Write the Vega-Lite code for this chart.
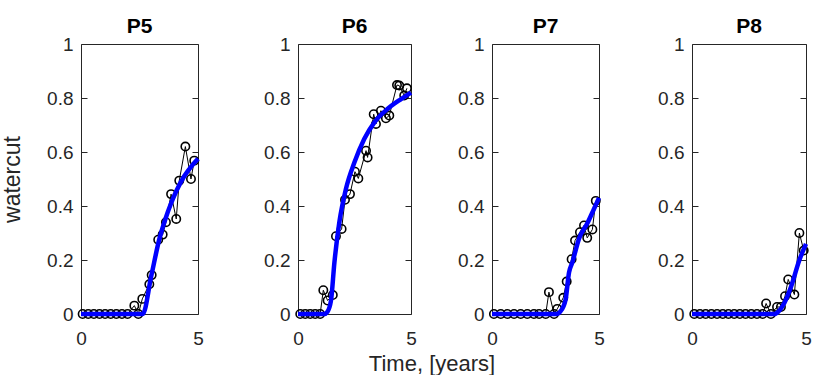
{
  "$schema": "https://vega.github.io/schema/vega-lite/v6.json",
  "padding": {"left": 0, "top": 15, "right": 0, "bottom": 0},
  "spacing": 0,
  "bounds": "full",
  "title": {"text": "Time, [years]", "orient": "bottom", "fontSize": 22, "fontWeight": "normal", "color": "#262626", "anchor": "middle", "frame": "bounds", "offset": 5, "dx": 24},
  "config": {
    "font": "Liberation Sans",
    "view": {"stroke": "#262626", "strokeWidth": 1},
    "title": {"fontSize": 21, "fontWeight": "bold", "color": "black", "offset": -2},
    "axis": {"grid": false, "domain": false, "zindex": 1, "labelFontSize": 19, "labelColor": "#262626", "tickColor": "#262626", "tickWidth": 1, "titleColor": "#262626", "labelFont": "Liberation Sans", "titleFont": "Liberation Sans"}
  },
  "datasets": {
    "obs": [
      {"w": "P5", "t": 0.07, "v": 0}, {"w": "P5", "t": 0.31, "v": 0}, {"w": "P5", "t": 0.55, "v": 0}, {"w": "P5", "t": 0.79, "v": 0}, {"w": "P5", "t": 1.03, "v": 0}, {"w": "P5", "t": 1.27, "v": 0}, {"w": "P5", "t": 1.51, "v": 0}, {"w": "P5", "t": 1.75, "v": 0}, {"w": "P5", "t": 1.99, "v": 0},
      {"w": "P5", "t": 2.28, "v": 0.031}, {"w": "P5", "t": 2.45, "v": 0}, {"w": "P5", "t": 2.62, "v": 0.056}, {"w": "P5", "t": 2.92, "v": 0.11}, {"w": "P5", "t": 3.02, "v": 0.144}, {"w": "P5", "t": 3.3, "v": 0.275}, {"w": "P5", "t": 3.49, "v": 0.294}, {"w": "P5", "t": 3.63, "v": 0.34}, {"w": "P5", "t": 3.85, "v": 0.444}, {"w": "P5", "t": 4.07, "v": 0.352}, {"w": "P5", "t": 4.2, "v": 0.494}, {"w": "P5", "t": 4.46, "v": 0.62}, {"w": "P5", "t": 4.7, "v": 0.5}, {"w": "P5", "t": 4.84, "v": 0.568},
      {"w": "P6", "t": 0.1, "v": 0}, {"w": "P6", "t": 0.32, "v": 0}, {"w": "P6", "t": 0.54, "v": 0}, {"w": "P6", "t": 0.76, "v": 0}, {"w": "P6", "t": 0.98, "v": 0},
      {"w": "P6", "t": 1.12, "v": 0.088}, {"w": "P6", "t": 1.31, "v": 0.05}, {"w": "P6", "t": 1.54, "v": 0.07}, {"w": "P6", "t": 1.68, "v": 0.288}, {"w": "P6", "t": 1.93, "v": 0.315}, {"w": "P6", "t": 2.08, "v": 0.423}, {"w": "P6", "t": 2.3, "v": 0.444}, {"w": "P6", "t": 2.52, "v": 0.527}, {"w": "P6", "t": 2.67, "v": 0.502}, {"w": "P6", "t": 3.01, "v": 0.605}, {"w": "P6", "t": 3.08, "v": 0.58}, {"w": "P6", "t": 3.35, "v": 0.74}, {"w": "P6", "t": 3.45, "v": 0.704}, {"w": "P6", "t": 3.67, "v": 0.753}, {"w": "P6", "t": 3.89, "v": 0.725}, {"w": "P6", "t": 4.04, "v": 0.735}, {"w": "P6", "t": 4.38, "v": 0.848}, {"w": "P6", "t": 4.48, "v": 0.846}, {"w": "P6", "t": 4.7, "v": 0.809}, {"w": "P6", "t": 4.82, "v": 0.836},
      {"w": "P7", "t": 0.09, "v": 0}, {"w": "P7", "t": 0.41, "v": 0}, {"w": "P7", "t": 0.72, "v": 0}, {"w": "P7", "t": 1.03, "v": 0}, {"w": "P7", "t": 1.34, "v": 0}, {"w": "P7", "t": 1.65, "v": 0}, {"w": "P7", "t": 1.96, "v": 0}, {"w": "P7", "t": 2.2, "v": 0}, {"w": "P7", "t": 2.51, "v": 0},
      {"w": "P7", "t": 2.66, "v": 0.081}, {"w": "P7", "t": 2.9, "v": 0}, {"w": "P7", "t": 3.05, "v": 0.019}, {"w": "P7", "t": 3.33, "v": 0.06}, {"w": "P7", "t": 3.49, "v": 0.12}, {"w": "P7", "t": 3.72, "v": 0.203}, {"w": "P7", "t": 3.88, "v": 0.272}, {"w": "P7", "t": 4.11, "v": 0.303}, {"w": "P7", "t": 4.3, "v": 0.328}, {"w": "P7", "t": 4.45, "v": 0.282}, {"w": "P7", "t": 4.69, "v": 0.313}, {"w": "P7", "t": 4.85, "v": 0.419},
      {"w": "P8", "t": 0.1, "v": 0}, {"w": "P8", "t": 0.35, "v": 0}, {"w": "P8", "t": 0.6, "v": 0}, {"w": "P8", "t": 0.85, "v": 0}, {"w": "P8", "t": 1.1, "v": 0}, {"w": "P8", "t": 1.35, "v": 0}, {"w": "P8", "t": 1.6, "v": 0}, {"w": "P8", "t": 1.85, "v": 0}, {"w": "P8", "t": 2.1, "v": 0}, {"w": "P8", "t": 2.35, "v": 0}, {"w": "P8", "t": 2.6, "v": 0}, {"w": "P8", "t": 2.85, "v": 0}, {"w": "P8", "t": 3.1, "v": 0},
      {"w": "P8", "t": 3.25, "v": 0.039}, {"w": "P8", "t": 3.46, "v": 0}, {"w": "P8", "t": 3.73, "v": 0.026}, {"w": "P8", "t": 3.9, "v": 0.026}, {"w": "P8", "t": 4.08, "v": 0.066}, {"w": "P8", "t": 4.22, "v": 0.128}, {"w": "P8", "t": 4.49, "v": 0.072}, {"w": "P8", "t": 4.71, "v": 0.3}, {"w": "P8", "t": 4.9, "v": 0.235}
    ],
    "sim": [
      {"w": "P5", "t": 0, "v": 0}, {"w": "P5", "t": 2.64, "v": 0}, {"w": "P5", "t": 3.0, "v": 0.14}, {"w": "P5", "t": 3.35, "v": 0.278}, {"w": "P5", "t": 3.6, "v": 0.35}, {"w": "P5", "t": 3.85, "v": 0.41}, {"w": "P5", "t": 4.1, "v": 0.46}, {"w": "P5", "t": 4.41, "v": 0.51}, {"w": "P5", "t": 4.7, "v": 0.545}, {"w": "P5", "t": 5.0, "v": 0.575},
      {"w": "P6", "t": 0, "v": 0}, {"w": "P6", "t": 1.16, "v": 0}, {"w": "P6", "t": 1.3, "v": 0.008}, {"w": "P6", "t": 1.46, "v": 0.05}, {"w": "P6", "t": 1.61, "v": 0.19}, {"w": "P6", "t": 1.83, "v": 0.34}, {"w": "P6", "t": 2.12, "v": 0.463}, {"w": "P6", "t": 2.49, "v": 0.56}, {"w": "P6", "t": 2.93, "v": 0.648}, {"w": "P6", "t": 3.38, "v": 0.71}, {"w": "P6", "t": 3.97, "v": 0.76}, {"w": "P6", "t": 4.56, "v": 0.796}, {"w": "P6", "t": 5.0, "v": 0.82},
      {"w": "P7", "t": 0, "v": 0}, {"w": "P7", "t": 3.0, "v": 0}, {"w": "P7", "t": 3.2, "v": 0.01}, {"w": "P7", "t": 3.44, "v": 0.054}, {"w": "P7", "t": 3.6, "v": 0.154}, {"w": "P7", "t": 3.75, "v": 0.19}, {"w": "P7", "t": 4.07, "v": 0.28}, {"w": "P7", "t": 4.45, "v": 0.335}, {"w": "P7", "t": 4.77, "v": 0.39}, {"w": "P7", "t": 5.0, "v": 0.43},
      {"w": "P8", "t": 0, "v": 0}, {"w": "P8", "t": 3.61, "v": 0}, {"w": "P8", "t": 3.8, "v": 0.01}, {"w": "P8", "t": 4.05, "v": 0.041}, {"w": "P8", "t": 4.34, "v": 0.1}, {"w": "P8", "t": 4.71, "v": 0.2}, {"w": "P8", "t": 5.0, "v": 0.26}
    ]
  },
  "hconcat": [
    {
      "width": 117, "height": 270,
      "title": {"text": "P5"},
      "resolve": {"axis": {"y": "independent"}},
      "layer": [
        {"data": {"name": "obs"}, "transform": [{"filter": "datum.w === 'P5'"}],
         "mark": {"type": "line", "color": "black", "strokeWidth": 1, "point": {"filled": false, "stroke": "black", "size": 70, "strokeWidth": 1.6}},
         "encoding": {
           "x": {"field": "t", "type": "quantitative", "scale": {"domain": [0, 5], "nice": false}, "axis": {"values": [0, 5], "format": "d", "ticks": false, "labelPadding": 15, "labelFlush": false, "title": null}},
           "y": {"field": "v", "type": "quantitative", "scale": {"domain": [0, 1], "nice": false}, "axis": {"orient": "left", "values": [0, 0.2, 0.4, 0.6, 0.8, 1], "labelExpr": "'' + datum.value", "tickSize": -6, "labelPadding": 14, "minExtent": 40, "maxExtent": 40, "title": "watercut", "titleFontSize": 23, "titleFontWeight": "normal", "titlePadding": 17}}
         }},
        {"data": {"name": "sim"}, "transform": [{"filter": "datum.w === 'P5'"}],
         "mark": {"type": "line", "color": "#0000ff", "strokeWidth": 4.5, "interpolate": "monotone"},
         "encoding": {
           "x": {"field": "t", "type": "quantitative"},
           "y": {"field": "v", "type": "quantitative", "axis": {"orient": "right", "values": [0, 0.2, 0.4, 0.6, 0.8, 1], "labels": false, "tickSize": -6, "minExtent": 0, "maxExtent": 0, "title": null}}
         }}
      ]
    },
    {
      "width": 113, "height": 270,
      "title": {"text": "P6"},
      "resolve": {"axis": {"y": "independent"}},
      "layer": [
        {"data": {"name": "obs"}, "transform": [{"filter": "datum.w === 'P6'"}],
         "mark": {"type": "line", "color": "black", "strokeWidth": 1, "point": {"filled": false, "stroke": "black", "size": 70, "strokeWidth": 1.6}},
         "encoding": {
           "x": {"field": "t", "type": "quantitative", "scale": {"domain": [0, 5], "nice": false}, "axis": {"values": [0, 5], "format": "d", "ticks": false, "labelPadding": 15, "labelFlush": false, "title": null}},
           "y": {"field": "v", "type": "quantitative", "scale": {"domain": [0, 1], "nice": false}, "axis": {"orient": "left", "values": [0, 0.2, 0.4, 0.6, 0.8, 1], "labelExpr": "'' + datum.value", "tickSize": -6, "labelPadding": 14, "minExtent": 89, "maxExtent": 89, "title": null}}
         }},
        {"data": {"name": "sim"}, "transform": [{"filter": "datum.w === 'P6'"}],
         "mark": {"type": "line", "color": "#0000ff", "strokeWidth": 4.5, "interpolate": "monotone"},
         "encoding": {
           "x": {"field": "t", "type": "quantitative"},
           "y": {"field": "v", "type": "quantitative", "axis": {"orient": "right", "values": [0, 0.2, 0.4, 0.6, 0.8, 1], "labels": false, "tickSize": -6, "minExtent": 0, "maxExtent": 0, "title": null}}
         }}
      ]
    },
    {
      "width": 107, "height": 270,
      "title": {"text": "P7"},
      "resolve": {"axis": {"y": "independent"}},
      "layer": [
        {"data": {"name": "obs"}, "transform": [{"filter": "datum.w === 'P7'"}],
         "mark": {"type": "line", "color": "black", "strokeWidth": 1, "point": {"filled": false, "stroke": "black", "size": 70, "strokeWidth": 1.6}},
         "encoding": {
           "x": {"field": "t", "type": "quantitative", "scale": {"domain": [0, 5], "nice": false}, "axis": {"values": [0, 5], "format": "d", "ticks": false, "labelPadding": 15, "labelFlush": false, "title": null}},
           "y": {"field": "v", "type": "quantitative", "scale": {"domain": [0, 1], "nice": false}, "axis": {"orient": "left", "values": [0, 0.2, 0.4, 0.6, 0.8, 1], "labelExpr": "'' + datum.value", "tickSize": -6, "labelPadding": 14, "minExtent": 70, "maxExtent": 70, "title": null}}
         }},
        {"data": {"name": "sim"}, "transform": [{"filter": "datum.w === 'P7'"}],
         "mark": {"type": "line", "color": "#0000ff", "strokeWidth": 4.5, "interpolate": "monotone"},
         "encoding": {
           "x": {"field": "t", "type": "quantitative"},
           "y": {"field": "v", "type": "quantitative", "axis": {"orient": "right", "values": [0, 0.2, 0.4, 0.6, 0.8, 1], "labels": false, "tickSize": -6, "minExtent": 0, "maxExtent": 0, "title": null}}
         }}
      ]
    },
    {
      "width": 114, "height": 270,
      "title": {"text": "P8"},
      "resolve": {"axis": {"y": "independent"}},
      "layer": [
        {"data": {"name": "obs"}, "transform": [{"filter": "datum.w === 'P8'"}],
         "mark": {"type": "line", "color": "black", "strokeWidth": 1, "point": {"filled": false, "stroke": "black", "size": 70, "strokeWidth": 1.6}},
         "encoding": {
           "x": {"field": "t", "type": "quantitative", "scale": {"domain": [0, 5], "nice": false}, "axis": {"values": [0, 5], "format": "d", "ticks": false, "labelPadding": 15, "labelFlush": false, "title": null}},
           "y": {"field": "v", "type": "quantitative", "scale": {"domain": [0, 1], "nice": false}, "axis": {"orient": "left", "values": [0, 0.2, 0.4, 0.6, 0.8, 1], "labelExpr": "'' + datum.value", "tickSize": -6, "labelPadding": 14, "minExtent": 82, "maxExtent": 82, "title": null}}
         }},
        {"data": {"name": "sim"}, "transform": [{"filter": "datum.w === 'P8'"}],
         "mark": {"type": "line", "color": "#0000ff", "strokeWidth": 4.5, "interpolate": "monotone"},
         "encoding": {
           "x": {"field": "t", "type": "quantitative"},
           "y": {"field": "v", "type": "quantitative", "axis": {"orient": "right", "values": [0, 0.2, 0.4, 0.6, 0.8, 1], "labels": false, "tickSize": -6, "minExtent": 0, "maxExtent": 0, "title": null}}
         }}
      ]
    }
  ]
}
